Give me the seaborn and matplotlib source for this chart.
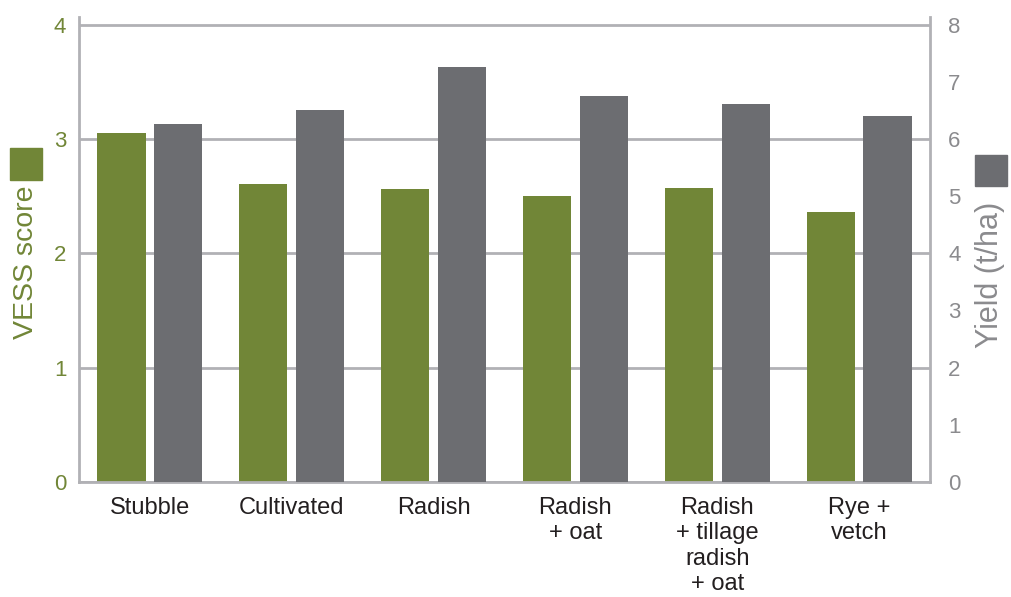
import pandas as pd
import seaborn as sns
import matplotlib.pyplot as plt
from matplotlib.patches import Rectangle

# --- Data ---
treatments = ["Stubble", "Cultivated", "Radish", "Radish\n+ oat",
              "Radish\n+ tillage\nradish\n+ oat", "Rye +\nvetch"]
vess_score = [3.05, 2.61, 2.56, 2.50, 2.57, 2.36]
yield_tha = [6.26, 6.52, 7.26, 6.76, 6.62, 6.40]
series = ["VESS score", "Yield (t/ha)"]
vess_ticks = [0, 1, 2, 3, 4]
yield_ticks = [0, 1, 2, 3, 4, 5, 6, 7, 8]

GREEN = "#718637"
GREY = "#6c6d71"
AXIS_GREY = "#b1b1b5"
TEXT_GREY = "#8b8b8e"

df = pd.DataFrame({
    "treatment": treatments * 2,
    "series": [series[0]] * len(treatments) + [series[1]] * len(treatments),
    "value": vess_score + yield_tha,
})
palette = {series[0]: GREEN, series[1]: GREY}

sns.set_style("white")
plt.rcParams["font.family"] = ["Liberation Sans", "DejaVu Sans"]

fig, ax1 = plt.subplots(figsize=(10.11, 5.97), dpi=100)
fig.subplots_adjust(left=0.078, right=0.920, bottom=0.193, top=0.9715)
ax2 = ax1.twinx()

# --- Bars: draw both series dodged on each axis, keep only the one
# that belongs to that axis' scale ---
for i, ax in enumerate([ax1, ax2]):
    sns.barplot(data=df, x="treatment", y="value", hue="series",
                hue_order=series, order=treatments, palette=palette,
                saturation=1, width=0.8, gap=0.15, linewidth=0,
                errorbar=None, legend=False, ax=ax)
    for j, cont in enumerate(ax.containers):
        if j != i:
            for bar in cont:
                bar.set_visible(False)

ax1.set_xlim(-0.5, len(treatments) - 0.5)
ax1.set_ylim(0, 4.07)
ax2.set_ylim(0, 8.14)

# --- Grid & spines ---
ax1.set_axisbelow(True)
ax1.set_yticks(vess_ticks)
ax1.yaxis.grid(True, color=AXIS_GREY, linewidth=2)
for s in ["top", "right"]:
    ax1.spines[s].set_visible(False)
for s in ["left", "bottom"]:
    ax1.spines[s].set_color(AXIS_GREY)
    ax1.spines[s].set_linewidth(2)
for s in ["top", "left", "bottom"]:
    ax2.spines[s].set_visible(False)
ax2.spines["right"].set_color(AXIS_GREY)
ax2.spines["right"].set_linewidth(2)

# --- Ticks ---
ax1.set_xticks(range(len(treatments)))
ax1.set_xticklabels(treatments, fontsize=17, color="#231f20", linespacing=1.2)
ax1.set_xticks([i - 0.5 for i in range(len(treatments) + 1)], minor=True)
ax1.tick_params(axis="x", which="major", length=0, pad=11)
ax1.tick_params(axis="x", which="minor", length=11, width=2, color=AXIS_GREY)
ax1.tick_params(axis="y", length=0, pad=9, labelsize=16, labelcolor=GREEN)

ax2.set_yticks(yield_ticks)
ax2.tick_params(axis="y", length=0, pad=13, labelsize=16, labelcolor=TEXT_GREY)

ax1.set_xlabel("")
ax1.set_ylabel("")
ax2.set_ylabel("")

# --- Axis titles with colour keys ---
fig.text(26 / 1011, 1 - 262 / 597, series[0], rotation=90, ha="center",
         va="center", fontsize=20.5, color=GREEN)
fig.text(990 / 1011, 1 - 275 / 597, series[1], rotation=90, ha="center",
         va="center", fontsize=22, color=TEXT_GREY)
fig.add_artist(Rectangle((10 / 1011, 1 - 180 / 597), 32 / 1011, 32 / 597,
                         transform=fig.transFigure, color=GREEN))
fig.add_artist(Rectangle((975 / 1011, 1 - 186 / 597), 32 / 1011, 31 / 597,
                         transform=fig.transFigure, color=GREY))

plt.savefig("out.png", dpi=100)
